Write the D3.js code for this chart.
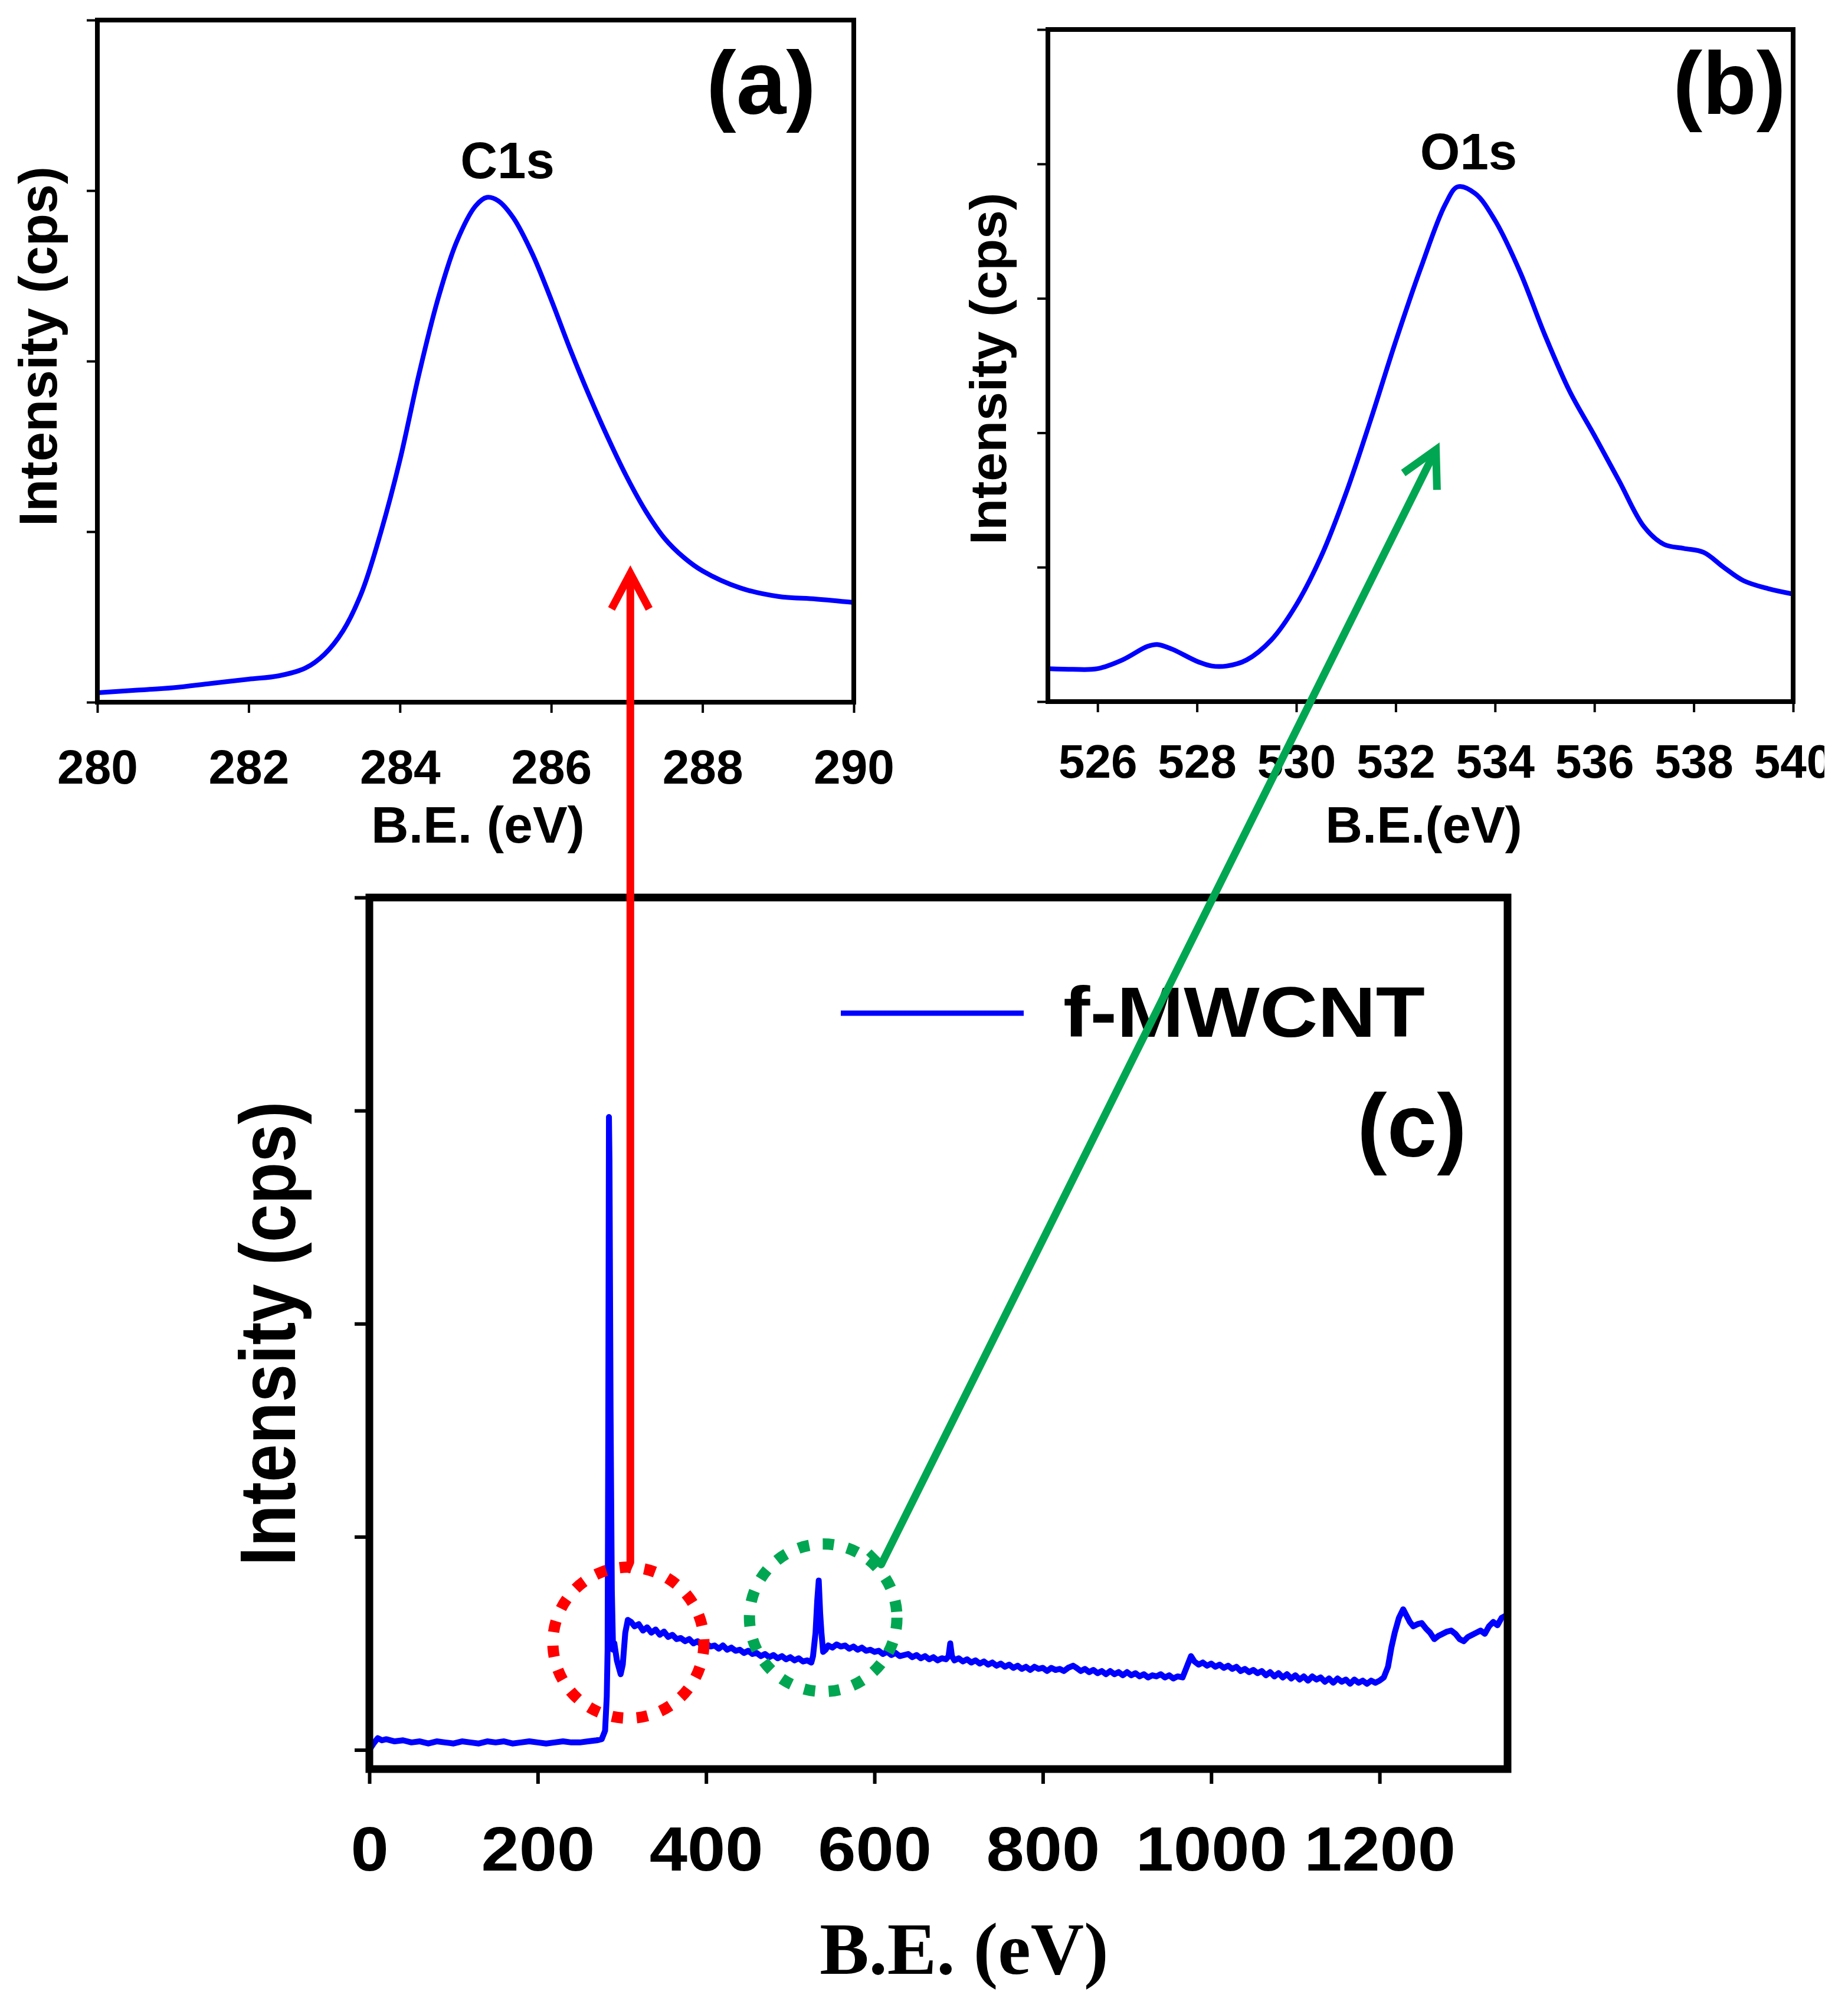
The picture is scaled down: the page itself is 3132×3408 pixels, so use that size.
<!DOCTYPE html>
<html><head><meta charset="utf-8">
<script src="https://cdn.jsdelivr.net/npm/d3@7"></script>
<style>body{margin:0;background:#fff}</style></head>
<body>
<svg id="chart" width="3132" height="3408"></svg>
<script>
// ---------------- DATA ----------------
const c1sEnergy = [280,280.5,281,281.5,282,282.4,282.75,283,283.25,283.5,283.75,284,284.25,284.5,284.75,285,285.15,285.3,285.5,285.75,286,286.25,286.5,286.75,287,287.25,287.5,287.75,288,288.5,289,289.5,290];
const c1sIntensity = [0.055,0.07,0.085,0.11,0.135,0.155,0.20,0.28,0.42,0.65,1.00,1.42,1.92,2.36,2.70,2.91,2.96,2.94,2.84,2.63,2.36,2.07,1.80,1.55,1.32,1.12,0.96,0.85,0.77,0.67,0.62,0.605,0.585];

const o1sEnergy = [525,525.5,526,526.5,527,527.2,527.5,528,528.3,528.6,529,529.5,530,530.5,531,531.5,532,532.5,533,533.25,533.6,534,534.5,535,535.5,536,536.5,537,537.4,537.8,538.2,538.6,539,539.5,540];
const o1sIntensity = [0.245,0.24,0.245,0.31,0.41,0.425,0.39,0.30,0.265,0.265,0.31,0.46,0.72,1.08,1.55,2.10,2.68,3.22,3.70,3.83,3.78,3.58,3.20,2.73,2.31,1.98,1.64,1.30,1.17,1.14,1.11,1.00,0.90,0.84,0.80];

const surveyEnergy = [0,5,10,15,20,30,40,50,60,70,80,90,100,110,120,130,140,150,160,170,180,190,200,210,220,230,240,250,260,270,276,280,282,283,283.8,284.6,285.2,286.5,288,289.5,291,294,298.5,301,304,307,311,315,320,325,330,335,340,345,350,355,360,365,370,375,380,385,390,395,400,405,410,415,420,425,430,435,440,445,450,455,460,465,470,475,480,485,490,495,500,505,510,515,520,525,527,530,532,533.8,535.5,537,539,542,545,550,555,560,565,570,575,580,585,590,595,600,605,610,615,620,625,630,640,645,650,655,660,665,670,675,680,685,688,690,692,695,700,705,710,715,720,725,730,735,740,745,750,755,760,765,770,775,780,785,790,795,800,805,810,815,820,825,830,836,840,845,850,855,860,865,870,875,880,885,890,895,900,905,910,915,920,925,930,935,940,945,950,955,960,966,972,976,980,985,990,995,1000,1005,1010,1015,1020,1025,1030,1035,1040,1045,1050,1055,1060,1065,1070,1075,1080,1085,1090,1095,1100,1105,1110,1115,1120,1125,1130,1135,1140,1145,1150,1155,1160,1165,1170,1175,1180,1185,1190,1195,1200,1205,1210,1214,1218,1223,1228,1232,1236,1240,1245,1250,1255,1260,1265,1270,1275,1280,1285,1290,1295,1300,1305,1310,1315,1320,1325,1330,1335,1340,1345,1350];
const surveyIntensity = [0.00,0.03,0.055,0.045,0.05,0.04,0.045,0.035,0.04,0.03,0.04,0.035,0.03,0.04,0.035,0.03,0.04,0.035,0.04,0.03,0.035,0.04,0.035,0.03,0.035,0.04,0.035,0.035,0.04,0.045,0.05,0.09,0.25,0.47,1.5,2.97,2.77,1.6,0.75,0.47,0.50,0.42,0.355,0.40,0.55,0.61,0.60,0.58,0.59,0.56,0.575,0.55,0.565,0.54,0.555,0.53,0.54,0.52,0.525,0.51,0.52,0.50,0.51,0.49,0.50,0.485,0.49,0.475,0.49,0.47,0.48,0.465,0.47,0.455,0.465,0.45,0.455,0.44,0.45,0.435,0.445,0.43,0.44,0.425,0.435,0.42,0.43,0.415,0.42,0.41,0.44,0.55,0.70,0.795,0.64,0.55,0.46,0.47,0.49,0.48,0.495,0.485,0.49,0.475,0.485,0.47,0.48,0.465,0.47,0.46,0.465,0.45,0.46,0.445,0.455,0.44,0.45,0.435,0.445,0.43,0.44,0.425,0.435,0.42,0.43,0.425,0.44,0.50,0.44,0.42,0.43,0.415,0.425,0.41,0.42,0.405,0.415,0.40,0.41,0.395,0.405,0.39,0.40,0.385,0.395,0.38,0.39,0.375,0.39,0.38,0.385,0.37,0.385,0.375,0.38,0.37,0.385,0.395,0.385,0.37,0.38,0.365,0.375,0.36,0.37,0.355,0.37,0.355,0.365,0.35,0.365,0.35,0.36,0.345,0.355,0.34,0.35,0.345,0.355,0.34,0.35,0.335,0.345,0.34,0.40,0.44,0.415,0.40,0.41,0.395,0.405,0.39,0.40,0.385,0.395,0.38,0.39,0.37,0.38,0.365,0.375,0.36,0.37,0.35,0.365,0.345,0.36,0.34,0.355,0.335,0.35,0.33,0.345,0.325,0.345,0.33,0.34,0.32,0.335,0.315,0.335,0.32,0.33,0.31,0.33,0.315,0.325,0.31,0.325,0.315,0.325,0.34,0.39,0.48,0.55,0.62,0.66,0.63,0.60,0.58,0.59,0.595,0.57,0.55,0.52,0.535,0.545,0.555,0.56,0.545,0.52,0.51,0.53,0.54,0.55,0.56,0.545,0.58,0.60,0.585,0.62,0.63];

const ticksA = [280,282,284,286,288,290];
const ticksB = [526,528,530,532,534,536,538,540];
const ticksC = [0,200,400,600,800,1000,1200];
const yTicksA = [0,1,2,3,4];
const yTicksB = [0,1,2,3,4,5];
const yTicksC = [0,1,2,3,4];
const legendLabel = "f-MWCNT";

// ---------------- DRAW ----------------
const svg = d3.select("#chart");
svg.append("rect").attr("width",3132).attr("height",3408).attr("fill","#fff");
const SANS = "'Liberation Sans', Arial, Helvetica, sans-serif";
const SERIF = "'Liberation Serif', 'Times New Roman', serif";

function panel(cfg){
  const x = d3.scaleLinear().domain(cfg.xDomain).range([cfg.left, cfg.right]);
  const y = d3.scaleLinear().domain(cfg.yDomain).range([cfg.bottom, cfg.top]);
  const g = svg.append("g");
  const gx = g.append("g").attr("transform",`translate(0,${cfg.bottom})`)
    .call(d3.axisBottom(x).tickValues(cfg.xTicks).tickSize(cfg.tickLen).tickSizeOuter(0).tickFormat(d3.format("d")));
  gx.select(".domain").remove();
  gx.selectAll(".tick line").attr("stroke","#000").attr("stroke-width",cfg.tickW);
  gx.selectAll(".tick text").attr("y",cfg.labelOff).attr("dy",0)
    .attr("font-family",SANS).attr("font-weight","bold").attr("font-size",cfg.tickFont)
    .attr("fill","#000").attr("transform",`scale(${cfg.tickStretch||1},1)`);
  if (cfg.clipRight){
    const id = "clip"+Math.round(cfg.left);
    svg.append("clipPath").attr("id",id).append("rect").attr("x",0).attr("y",0).attr("width",cfg.clipRight).attr("height",3408);
    gx.attr("clip-path",`url(#${id})`);
  }
  const gy = g.append("g").attr("transform",`translate(${cfg.left},0)`)
    .call(d3.axisLeft(y).tickValues(cfg.yTicks).tickSize(cfg.tickLen).tickSizeOuter(0).tickFormat(""));
  gy.select(".domain").remove();
  gy.selectAll(".tick line").attr("stroke","#000").attr("stroke-width",cfg.tickW);
  const pts = cfg.xs.map((v,i)=>[v,cfg.ys[i]]);
  g.append("path").datum(pts)
    .attr("d", d3.line().x(d=>x(d[0])).y(d=>y(d[1])).curve(cfg.curve))
    .attr("fill","none").attr("stroke","#0000ff").attr("stroke-width",cfg.lineW)
    .attr("stroke-linejoin","round").attr("stroke-linecap","round");
  g.append("rect").attr("x",cfg.left).attr("y",cfg.top)
    .attr("width",cfg.right-cfg.left).attr("height",cfg.bottom-cfg.top)
    .attr("fill","none").attr("stroke","#000").attr("stroke-width",cfg.frameW);
  return {x,y,g};
}

const A = panel({left:165,right:1447,top:34,bottom:1190,xDomain:[280,290],yDomain:[0,4],
  xTicks:ticksA,yTicks:yTicksA,tickLen:18,tickW:4,labelOff:138,tickFont:82,
  xs:c1sEnergy,ys:c1sIntensity,curve:d3.curveCatmullRom.alpha(0.5),lineW:8,frameW:8});
const B = panel({left:1776,right:3039,top:50,bottom:1189,xDomain:[525,540],yDomain:[0,5],
  xTicks:ticksB,yTicks:yTicksB,tickLen:18,tickW:4,labelOff:129,tickFont:80,clipRight:3092,
  xs:o1sEnergy,ys:o1sIntensity,curve:d3.curveCatmullRom.alpha(0.5),lineW:8,frameW:8});
const C = panel({left:626,right:2555,top:1521,bottom:2998,xDomain:[0,1352],yDomain:[-0.09,4],
  xTicks:ticksC,yTicks:yTicksC,tickLen:25,tickW:6,labelOff:172,tickFont:105,tickStretch:1.1,
  xs:surveyEnergy,ys:surveyIntensity,curve:d3.curveLinear,lineW:10,frameW:13});

// ---------------- TEXT ----------------
function txt(x,y,s,size,opts={}){
  const t = svg.append("text").attr("x",x).attr("y",y).text(s)
    .attr("font-family",opts.family||SANS).attr("font-weight","bold")
    .attr("font-size",size).attr("text-anchor",opts.anchor||"middle").attr("fill","#000");
  if (opts.rotate) t.attr("transform",`rotate(-90,${x},${y})`);
  if (opts.len) t.attr("textLength",opts.len).attr("lengthAdjust","spacingAndGlyphs");
  return t;
}
txt(1290,193,"(a)",152);
txt(860,302,"C1s",87);
txt(810,1428,"B.E. (eV)",88);
txt(96,587,"Intensity (cps)",90,{rotate:true});

txt(2931,193,"(b)",150);
txt(2489,287,"O1s",87);
txt(2413,1428,"B.E.(eV)",87);
txt(1705,625,"Intensity (cps)",88,{rotate:true});

txt(2393,1960,"(c)",152);
txt(1634,3345,"B.E. (eV)",125,{family:SERIF});
txt(500,2260,"Intensity (cps)",133,{rotate:true,len:787});

svg.append("line").attr("x1",1425).attr("x2",1735).attr("y1",1717).attr("y2",1717)
  .attr("stroke","#0000ff").attr("stroke-width",9);
txt(1802,1757,legendLabel,121,{anchor:"start",len:613});

// ---------------- ANNOTATIONS ----------------
const RED = "#ff0000", GREEN = "#00a651";
function dotted(cx,cy,r,color){
  svg.append("circle").attr("cx",cx).attr("cy",cy).attr("r",r)
    .attr("fill","none").attr("stroke",color).attr("stroke-width",19)
    .attr("stroke-dasharray","19 23");
}
dotted(C.x(307.7), C.y(0.503), 128, RED);
dotted(C.x(539.1), C.y(0.62), 125, GREEN);

function arrow(points, color){
  const tip = points[0], nxt = points[1];
  const ang = Math.atan2(nxt[1]-tip[1], nxt[0]-tip[0]);
  const L = 68, h = 28*Math.PI/180;
  svg.append("path").attr("d", d3.line()(points))
    .attr("fill","none").attr("stroke",color).attr("stroke-width",13).attr("stroke-linejoin","round");
  const w1 = [tip[0]+L*Math.cos(ang+h), tip[1]+L*Math.sin(ang+h)];
  const w2 = [tip[0]+L*Math.cos(ang-h), tip[1]+L*Math.sin(ang-h)];
  svg.append("path").attr("d", d3.line()([w1,tip,w2]))
    .attr("fill","none").attr("stroke",color).attr("stroke-width",13)
    .attr("stroke-linejoin","miter").attr("stroke-linecap","butt");
}
const redX = C.x(310);
arrow([[redX, A.y(0.755)], [redX, C.y(0.88)], [redX-7, C.y(0.835)]], RED);
const gTip = [B.x(532.81), B.y(1.874)];
const gEnd = [C.x(608), C.y(0.87)];
arrow([gTip, gEnd, [gEnd[0]-21, gEnd[1]-21]], GREEN);
</script>
</body></html>
